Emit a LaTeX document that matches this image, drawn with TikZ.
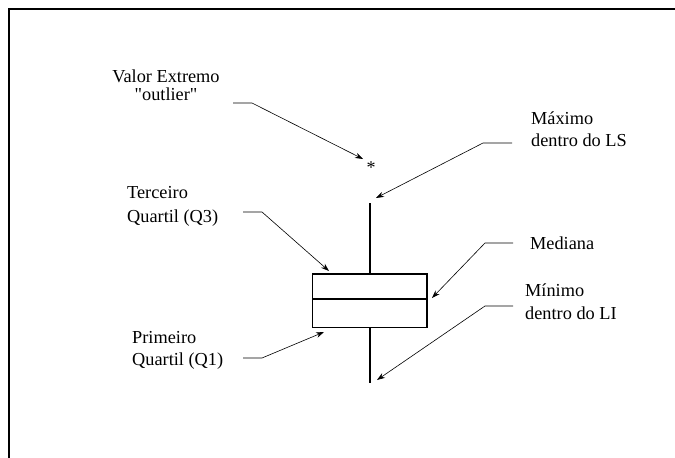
\documentclass[tikz,border=0pt]{standalone}
\usepackage{fontspec}
\setmainfont{Liberation Serif}[Ligatures=TeXOff]
\usetikzlibrary{arrows.meta}
\begin{document}
\begin{tikzpicture}[x=1pt,y=-1pt,
  lbl/.style={anchor=base west,inner sep=0pt,font=\fontsize{18.3}{21}\selectfont},
  lblc/.style={anchor=base,inner sep=0pt,font=\fontsize{18.3}{21}\selectfont},
  conn/.style={line width=0.6pt,-{Stealth[length=8pt,width=5.5pt]}},
  plotline/.style={line width=1.1pt},
  frame/.style={line width=2pt}]
\useasboundingbox (0,0) rectangle (675,458);
% frame
\coordinate (fr1) at (676,9);
\coordinate (fr2) at (9,9);
\coordinate (fr3) at (9,459);
\draw[frame] (fr1) -- (fr2) -- (fr3);
% box plot
\coordinate (bxtl) at (312.5,274);
\coordinate (bxbr) at (427,327.5);
\coordinate (medl) at (312.5,299);
\coordinate (medr) at (427,299);
\coordinate (wtop) at (370,203);
\coordinate (wtopb) at (370,274);
\coordinate (wbott) at (370,327.5);
\coordinate (wbot) at (370,383);
\draw[plotline] (bxtl) rectangle (bxbr);
\draw[plotline] (medl) -- (medr);
\draw[plotline] (wtop) -- (wtopb);
\draw[plotline] (wbott) -- (wbot);
\node[inner sep=0pt,font=\fontsize{18}{21}\selectfont] (star) at (371,168) {*};
% labels
\node[lblc] (va) at (166,82) {Valor Extremo};
\node[lblc] (vb) at (166,100) {"outlier"};
\node[lbl] (ma) at (531,124) {Máximo};
\node[lbl] (mb) at (531,146) {dentro do LS};
\node[lbl] (ta) at (127,198) {Terceiro};
\node[lbl] (tb) at (127,222) {Quartil (Q3)};
\node[lbl] (me) at (530,249) {Mediana};
\node[lbl] (na) at (525,296) {Mínimo};
\node[lbl] (nb) at (525,319) {dentro do LI};
\node[lbl] (pa) at (132,343) {Primeiro};
\node[lbl] (pb) at (132,365) {Quartil (Q1)};
% connector points
\coordinate (o1) at (233,103); \coordinate (o2) at (252,103); \coordinate (ot) at (363,159);
\coordinate (x1) at (512,143); \coordinate (x2) at (483,143); \coordinate (xt) at (376,198);
\coordinate (t1) at (243,212); \coordinate (t2) at (262,212); \coordinate (tt) at (329,271);
\coordinate (d1) at (513,243); \coordinate (d2) at (485,243); \coordinate (dt) at (432,298);
\coordinate (n1) at (513,306); \coordinate (n2) at (485,306); \coordinate (nt) at (377,380);
\coordinate (p1) at (243,358); \coordinate (p2) at (262,358); \coordinate (pt) at (324,332);
\draw[conn] (o1) -- (o2) -- (ot);
\draw[conn] (x1) -- (x2) -- (xt);
\draw[conn] (t1) -- (t2) -- (tt);
\draw[conn] (d1) -- (d2) -- (dt);
\draw[conn] (n1) -- (n2) -- (nt);
\draw[conn] (p1) -- (p2) -- (pt);
\end{tikzpicture}
\end{document}
